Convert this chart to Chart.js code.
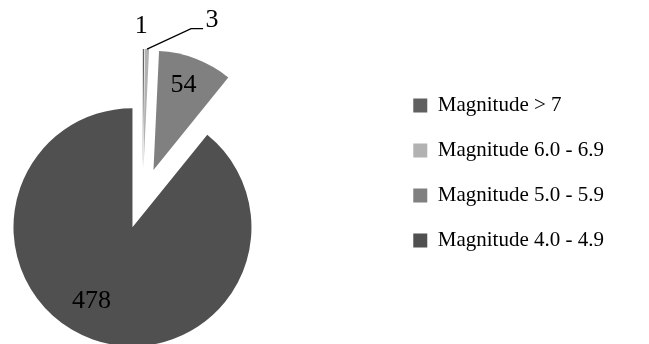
<!DOCTYPE html>
<html>
<head>
<meta charset="utf-8">
<script src="https://cdn.jsdelivr.net/npm/chart.js@4/dist/chart.umd.min.js"></script>
<style>
  html, body { margin: 0; padding: 0; background: #fff; overflow: hidden; width: 649px; height: 344px; }
  #wrap { position: absolute; left: -104px; top: 0; }
</style>
</head>
<body>
<div id="wrap"><canvas id="quakes"></canvas></div>
<script>
// earthquake counts by magnitude band
const categories = ["Magnitude > 7", "Magnitude 6.0 - 6.9", "Magnitude 5.0 - 5.9", "Magnitude 4.0 - 4.9"];
const counts = [1, 3, 54, 478];

// looks
const colors = ["#606060", "#b2b2b2", "#808080", "#505050"];
const explode = 30.5;                       // px each slice is pulled out
const labelDist = [1.19, 1.37, 0.76, 0.71]; // label distance, fraction of radius
const labelTurn = [-1, 23.2, -1.4, 9.6];    // label angle nudge, degrees
const labelLeader = [false, true, false, false];
const serif = "'Liberation Serif', 'Times New Roman', serif";

// size the canvas so the legend lands at the right spot
const m = document.createElement("canvas").getContext("2d");
m.font = "21px " + serif;
const textW = Math.max(...categories.map(c => m.measureText(c).width));
const legendW = 24 + 14 + 10.5 + textW + 10;

const cv = document.getElementById("quakes");
cv.width = Math.round(104 + 389 + legendW);
cv.height = 344;

const explodePlugin = {
  id: "explode",
  afterDatasetsUpdate(chart) {
    chart.getDatasetMeta(0).data.forEach(arc => {
      const mid = (arc.startAngle + arc.endAngle) / 2;
      arc.x += Math.cos(mid) * explode;
      arc.y += Math.sin(mid) * explode;
    });
  }
};

const labelPlugin = {
  id: "sliceLabels",
  afterDatasetsDraw(chart) {
    const ctx = chart.ctx;
    ctx.save();
    ctx.font = "26px " + serif;
    ctx.fillStyle = "#000";
    ctx.strokeStyle = "#000";
    ctx.lineWidth = 1.3;
    ctx.textAlign = "center";
    ctx.textBaseline = "middle";
    chart.getDatasetMeta(0).data.forEach((arc, i) => {
      const mid = (arc.startAngle + arc.endAngle) / 2;
      const a = mid + labelTurn[i] * Math.PI / 180;
      const d = arc.outerRadius * labelDist[i];
      const px = arc.x + Math.cos(a) * d;
      const py = arc.y + Math.sin(a) * d;
      if (labelLeader[i]) {
        ctx.beginPath();
        ctx.moveTo(arc.x + Math.cos(mid) * arc.outerRadius, arc.y + Math.sin(mid) * arc.outerRadius);
        ctx.lineTo(px - 21, py + 8.5);
        ctx.lineTo(px - 9, py + 8.5);
        ctx.stroke();
      }
      ctx.fillText(String(counts[i]), px, py);
    });
    ctx.restore();
  }
};

new Chart(cv, {
  type: "pie",
  data: {
    labels: categories,
    datasets: [{
      data: counts,
      backgroundColor: colors,
      borderWidth: 0,
      hoverOffset: 0,
      radius: 119,
      clip: false
    }]
  },
  options: {
    responsive: false,
    animation: false,
    events: [],
    layout: { padding: { top: 71, bottom: 18, left: 0, right: 0 } },
    plugins: {
      legend: {
        position: "right",
        align: "start",
        labels: {
          boxWidth: 14,
          boxHeight: 14,
          padding: 24,
          color: "#000",
          font: { family: serif, size: 21 }
        }
      },
      tooltip: { enabled: false }
    }
  },
  plugins: [explodePlugin, labelPlugin]
});
</script>
</body>
</html>
